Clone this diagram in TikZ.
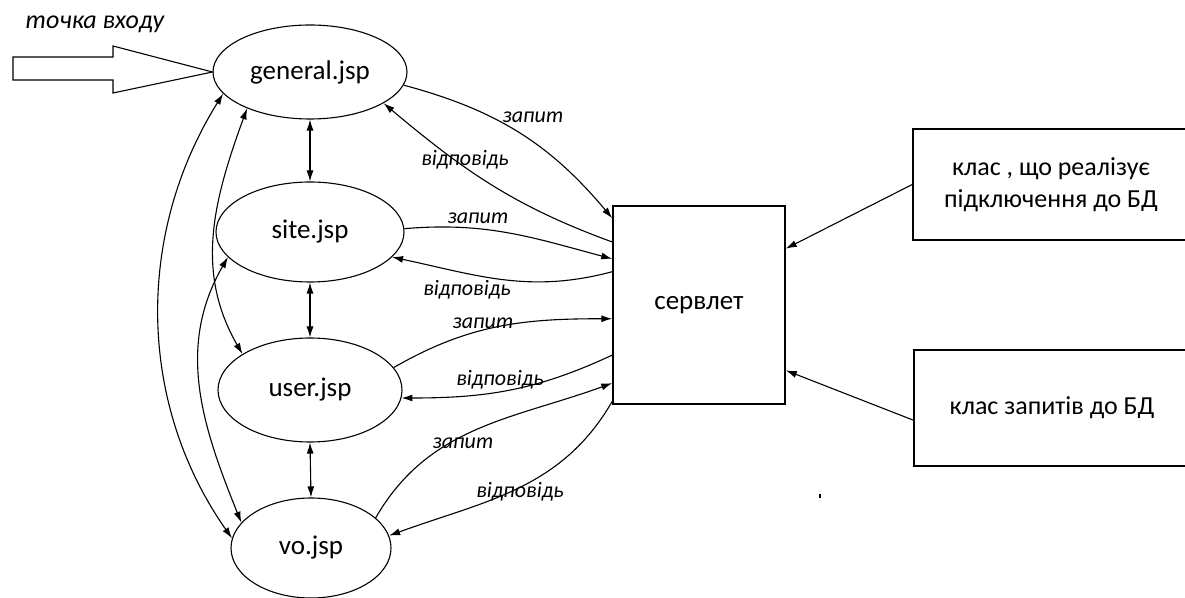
\documentclass[tikz,border=0pt]{standalone}
\usepackage{fontspec}
\setmainfont{Carlito}
\usetikzlibrary{shapes.geometric,arrows.meta}

\tikzset{
  page/.style={draw, ellipse, line width=1.1pt, inner sep=0pt,
    font=\fontsize{27}{31}\selectfont},
  block/.style={draw, rectangle, line width=1.5pt, inner sep=0pt,
    font=\fontsize{26}{32}\selectfont, align=center},
  lbl/.style={font=\fontsize{22}{26}\selectfont\itshape, inner sep=0pt},
  link/.style={line width=1.1pt, -{Latex[length=11pt,width=7pt]}},
  twoway/.style={line width=1.1pt, {Latex[length=11pt,width=7pt]}-{Latex[length=11pt,width=7pt]}}
}

\begin{document}
\begin{tikzpicture}[x=1pt, y=1pt]
  \useasboundingbox (0,0) rectangle (1185,597);

  % jsp pages
  \node [page, minimum width=194pt, minimum height=94pt] (gen) at (310,525) {general.jsp};
  \node [page, minimum width=188pt, minimum height=100pt] (site) at (310,365) {site.jsp};
  \node [page, minimum width=184pt, minimum height=104pt] (user) at (310,207) {user.jsp};
  \node [page, minimum width=160pt, minimum height=100pt] (vo) at (311,49) {vo.jsp};

  % servlet and db classes
  \node [block, font=\fontsize{27}{31}\selectfont, minimum width=172pt, minimum height=198pt] (srv) at (699,292) {сервлет};
  \node [block, minimum width=276pt, minimum height=111pt] (conn) at (1051,412.5)
    {клас , що реалізує\\підключення до БД};
  \node [block, minimum width=276pt, minimum height=116pt] (query) at (1052,189)
    {клас запитів до БД};

  % entry point
  \node [lbl, font=\fontsize{26}{30}\selectfont\itshape] (entry) at (95,573) {точка входу};
  \draw [line width=1.1pt] (13,517) -- (113,517) -- (113,504) -- (gen.west)
    -- (113,551) -- (113,540) -- (13,540) -- cycle;

  % between pages
  \draw [twoway] (gen.south) -- (site.north);
  \draw [twoway] (site.south) -- (user.north);
  \draw [twoway] (user.south) -- (vo.north);
  \draw [twoway] (gen.194) to [out=238, in=125, looseness=0.95] (vo.173);
  \draw [twoway] (gen.210) to [out=250, in=120] (user.152);
  \draw [twoway] (site.197) to [out=240, in=112] (vo.160);

  % requests and responses
  \draw [link] (gen.-8) to [out=-15, in=130] (srv.135);
  \draw [link] (srv.144) to [out=160, in=-40] (gen.-23);
  \draw [link] (site.2) to [out=5, in=165] (srv.152);
  \draw [link] (srv.159) to [out=195, in=-12] (site.-17);
  \draw [link] (user.15) to [out=30, in=180] (srv.189);
  \draw [link] (srv.210) to [out=205, in=0] (user.-5);
  \draw [link] (vo.25) to [out=60, in=200] (srv.222);
  \draw [link] (srv.228) to [out=240, in=20] (vo.9);

  \node [lbl] (q1) at (533,480) {запит};
  \node [lbl] (a1) at (465,437) {відповідь};
  \node [lbl] (q2) at (478,379) {запит};
  \node [lbl] (a2) at (467,307) {відповідь};
  \node [lbl] (q3) at (483,274) {запит};
  \node [lbl] (a3) at (500,217) {відповідь};
  \node [lbl] (q4) at (463,154) {запит};
  \node [lbl] (a4) at (520,105) {відповідь};

  % db classes into servlet
  \draw [link] (conn.west) -- (srv.33);
  \draw [link] (query.185) -- (srv.-37);

  \fill (819,99) rectangle (821,103);
\end{tikzpicture}
\end{document}
